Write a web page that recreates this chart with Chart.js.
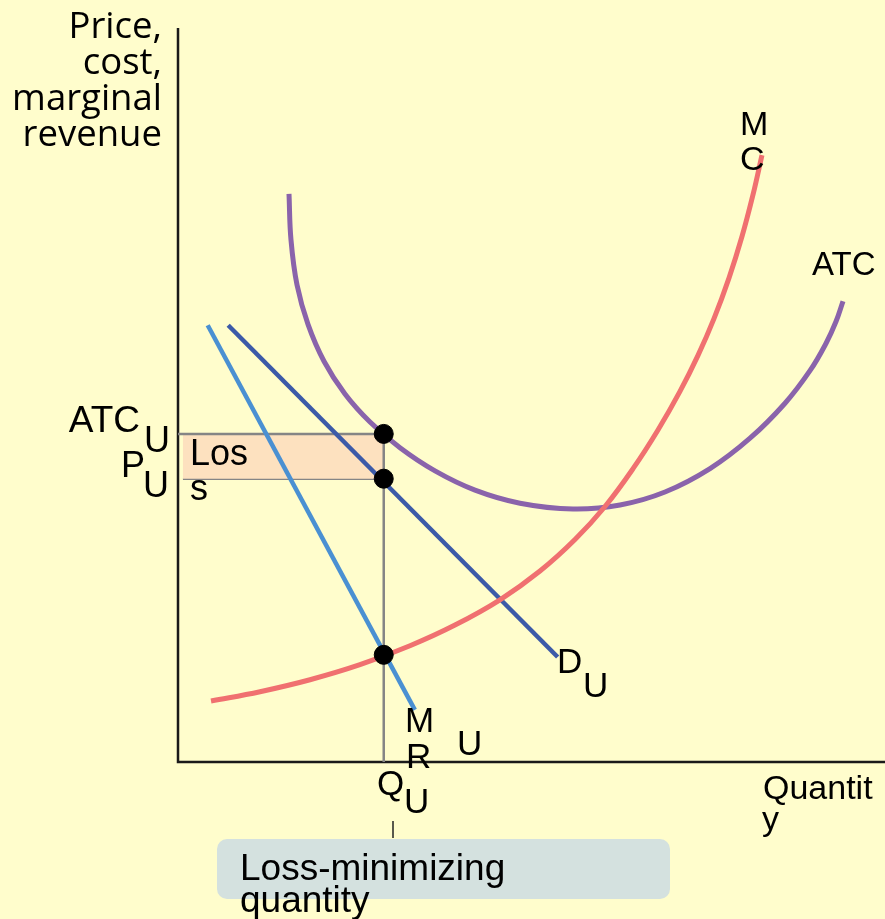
<!DOCTYPE html>
<html>
<head>
<meta charset="utf-8">
<script src="https://cdn.jsdelivr.net/npm/chart.js@4"></script>
<style>
  html, body { margin: 0; padding: 0; background: #fffdcc; }
  #wrap { width: 885px; height: 919px; position: relative; }
</style>
</head>
<body>
<div id="wrap"><canvas id="c" width="885" height="919"></canvas></div>
<script>
// ---- Data (units 0..100 on each axis) ----
const qU = 29.1;          // loss-minimizing quantity
const atcU = 44.7;        // ATC at qU
const pU = 38.6;          // price at qU
const mcAtQ = 14.6;       // MC = MR at qU

const mcX = [4.67, 11.60, 18.67, 25.74, 32.81, 39.18, 45.54, 51.20, 56.15, 60.40, 64.36, 67.89, 71.00, 73.55, 75.81, 77.93, 79.77, 81.33, 82.60];
const mcY = [8.31, 9.58, 11.21, 13.26, 15.84, 18.66, 22.10, 26.02, 30.31, 34.81, 39.96, 45.23, 50.49, 55.40, 60.41, 65.93, 71.59, 77.29, 82.68];

const atcX = [15.70, 15.98, 16.83, 18.39, 20.65, 23.62, 27.16, 31.40, 36.35, 42.01, 48.37, 55.87, 62.52, 68.88, 75.25, 80.91, 85.86, 89.39, 91.65, 93.07, 94.06];
const atcY = [77.41, 71.14, 65.01, 59.62, 54.60, 50.14, 46.32, 42.81, 39.66, 37.04, 35.26, 34.47, 35.01, 36.78, 39.97, 44.11, 48.88, 53.31, 57.02, 60.01, 62.78];

const demandX = [7.1, 53.7];
const demandY = [59.5, 14.3];

const mrX = [4.2, 33.5];
const mrY = [59.5, 7.1];

const zip = (xs, ys) => xs.map((x, i) => ({ x, y: ys[i] }));

const BG = '#fffdcc';
const SANS = '"Liberation Sans", Arial, sans-serif';

const drawPlugin = {
  id: 'econ',
  beforeDraw(chart) {
    const { ctx } = chart;
    ctx.save();
    ctx.fillStyle = BG;
    ctx.fillRect(0, 0, chart.width, chart.height);
    ctx.restore();
  },
  beforeDatasetsDraw(chart) {
    const { ctx, chartArea: a } = chart;
    ctx.save();
    ctx.strokeStyle = '#1a1a1a';
    ctx.lineWidth = 2.5;
    ctx.beginPath();
    ctx.moveTo(a.left, a.top);
    ctx.lineTo(a.left, a.bottom);
    ctx.lineTo(a.right, a.bottom);
    ctx.stroke();
    ctx.restore();
  },
  afterDraw(chart) {
    const { ctx } = chart;
    ctx.save();
    ctx.fillStyle = '#000';
    // y-axis title
    ctx.font = '36.5px "Open Sans", sans-serif';
    ctx.textAlign = 'right';
    ctx.textBaseline = 'alphabetic';
    ['Price,', 'cost,', 'marginal', 'revenue'].forEach((t, i) => ctx.fillText(t, 162, 38 + i * 36));

    const T = (t, x, y, size, align) => {
      ctx.font = size + 'px ' + SANS;
      ctx.textAlign = align || 'left';
      ctx.fillText(t, x, y);
    };
    T('ATC', 140, 432, 37, 'right');
    T('U', 144, 452, 36);
    T('P', 145, 477, 36, 'right');
    T('U', 143, 497, 36);
    T('Los', 190, 465, 36);
    T('s', 190, 500, 36);
    T('M', 740, 135, 34);
    T('C', 740, 170, 34);
    T('ATC', 812, 275, 33);
    T('D', 557, 673, 35);
    T('U', 583, 697, 35);
    T('M', 405, 732, 35);
    T('R', 406, 768, 35);
    T('U', 457, 755, 35);
    T('Q', 377, 795, 35);
    T('U', 404, 813, 35);
    T('Quantit', 763, 799, 34);
    T('y', 762, 830, 34);

    // callout
    ctx.strokeStyle = '#222';
    ctx.lineWidth = 1.5;
    ctx.beginPath();
    ctx.moveTo(393, 821);
    ctx.lineTo(393, 838);
    ctx.stroke();
    ctx.fillStyle = '#d4e1df';
    ctx.beginPath();
    ctx.roundRect(217, 839, 453, 60, 10);
    ctx.fill();
    ctx.fillStyle = '#000';
    T('Loss-minimizing', 240, 880, 37);
    T('quantity', 240, 912, 37);
    ctx.restore();
  }
};

const line = (data, color, width, order, extra) => Object.assign({
  data, borderColor: color, borderWidth: width, pointRadius: 0,
  fill: false, tension: 0, order, clip: false, borderCapStyle: 'butt'
}, extra || {});

new Chart(document.getElementById('c'), {
  type: 'line',
  data: {
    datasets: [
      // dots (top)
      { type: 'scatter', data: [{ x: qU, y: atcU }, { x: qU, y: pU }, { x: qU, y: mcAtQ }],
        pointRadius: 9.5, pointHoverRadius: 9.5, pointBorderWidth: 1,
        backgroundColor: '#000', borderColor: '#000',
        showLine: false, order: 0, clip: false },
      line(zip(mcX, mcY), '#f07070', 5, 1, { tension: 0.4 }),
      line(zip(atcX, atcY), '#8a63ab', 5, 2, { tension: 0.4 }),
      line(zip(demandX, demandY), '#3c5aa8', 4.5, 3),
      line(zip(mrX, mrY), '#4a90d2', 4.5, 4),
      // gray guide lines
      line([{ x: qU, y: 0 }, { x: qU, y: atcU }], '#858585', 2.5, 5),
      line([{ x: 0, y: atcU }, { x: qU, y: atcU }], '#858585', 2.5, 6,
           { fill: { target: '+1' }, backgroundColor: '#fde1bf' }),
      line([{ x: 0.7, y: pU }, { x: qU, y: pU }], '#858585', 2.5, 7),
    ]
  },
  options: {
    responsive: false,
    animation: false,
    events: [],
    layout: { autoPadding: false, padding: { left: 178, top: 28, right: 0, bottom: 157 } },
    plugins: { legend: { display: false }, tooltip: { enabled: false } },
    scales: {
      x: { type: 'linear', min: 0, max: 100, display: false },
      y: { type: 'linear', min: 0, max: 100, display: false }
    }
  },
  plugins: [drawPlugin]
});
</script>
</body>
</html>
